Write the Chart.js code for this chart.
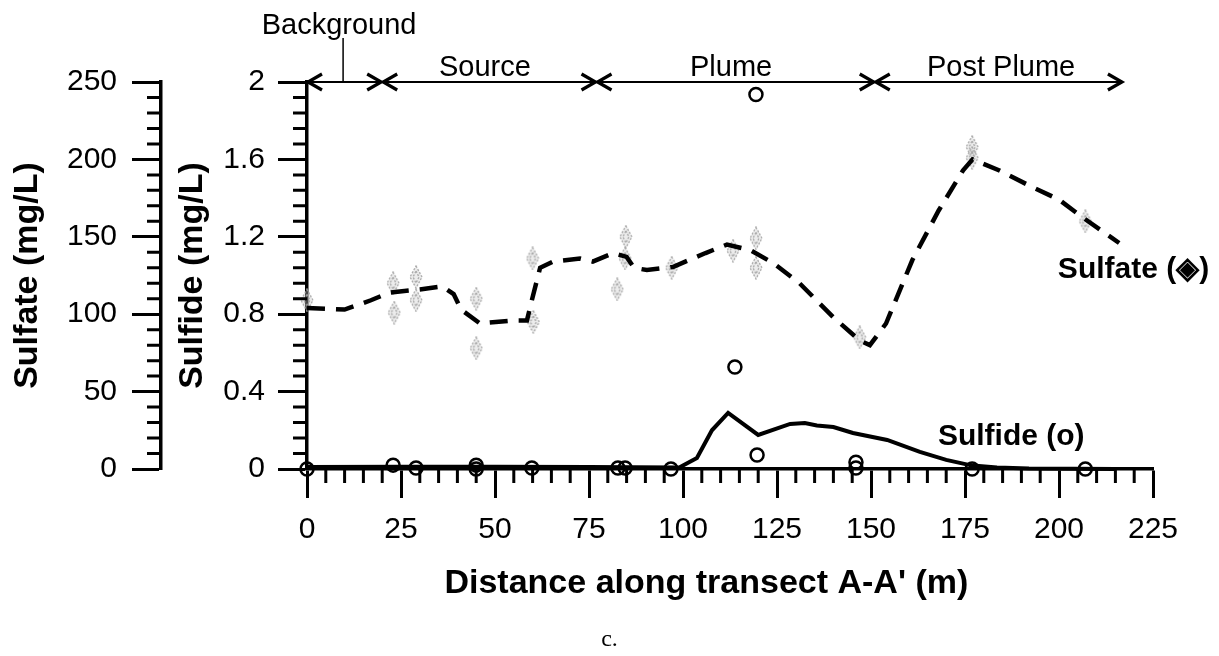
<!DOCTYPE html>
<html>
<head>
<meta charset="utf-8">
<script src="https://cdn.jsdelivr.net/npm/chart.js@4.4.1/dist/chart.umd.min.js"></script>
<style>
    html, body { margin: 0; padding: 0; background: #fff; }
    canvas { display: block; }
</style>
</head>
<body>
<canvas id="chart" width="1219" height="656"></canvas>
<script>
// Sulfide samples (open circles), mg/L
const sulfideX = [0, 22.9, 29, 45, 45, 59.8, 82.7, 84.6, 96.8, 113.8, 119.4, 119.7, 146, 146, 176.9, 207];
const sulfideY = [0, 0.02, 0.005, 0.02, 0, 0.005, 0.005, 0.005, 0, 0.527, 1.935, 0.072, 0.035, 0.005, 0, 0];

// Sulfide trend (solid line)
const sulfideLineX = [0, 25, 50, 75, 99, 103.7, 107.7, 112, 120, 128.5, 132.4, 135.6, 140, 145.2, 154.3, 163, 170, 176.3, 183.5, 192, 215];
const sulfideLineY = [0.01, 0.012, 0.012, 0.01, 0.008, 0.057, 0.2, 0.29, 0.176, 0.233, 0.238, 0.225, 0.217, 0.186, 0.15, 0.088, 0.047, 0.02, 0.008, 0.002, 0];

// Sulfate samples (grey diamonds), mg/L
const sulfateX = [0, 22.9, 23.2, 29, 29, 45, 45, 60, 60.2, 82.5, 84.8, 84.6, 97, 113.3, 119.4, 119.4, 147, 176.9, 176.9, 207];
const sulfateY = [109, 120, 101, 124, 109, 110, 78, 136, 95, 116, 150, 136, 130, 141, 149, 130, 85, 208, 201, 160];

// Sulfate trend (dashed line)
const sulfateLineX = [0, 10, 17, 22, 30, 36, 39, 41, 46, 55, 58.5, 60, 62, 65.4, 72.6, 76, 81.4, 85, 87, 90.4, 97.3, 106, 111.7, 117.8, 124, 131, 140, 147, 149.7, 154, 161, 168, 174.5, 177, 184, 193, 200, 206, 216];
const sulfateLineY = [104, 103, 109, 114, 116, 118, 113, 103, 94, 96, 96, 111, 130, 134, 136, 134, 139.5, 137, 130, 128.5, 130.5, 139.5, 145, 141.5, 133, 120, 98, 83, 80, 94, 135, 167, 193, 200, 193, 182, 174, 163, 146];

// Zones along the transect
const zoneNames = ["Background", "Source", "Plume", "Post Plume"];
const zoneEdges = [0, 20, 77, 151, 217];
const zoneLabelX = [9.6, 47.3, 112.8, 184.6];

// Axis ticks
const distanceTicks = [0, 25, 50, 75, 100, 125, 150, 175, 200, 225];
const sulfateTicks = [0, 50, 100, 150, 200, 250];
const sulfideTicks = [0, 0.4, 0.8, 1.2, 1.6, 2];

const FONT = "'Liberation Sans', Arial, Helvetica, sans-serif";

// Helper to zip two arrays into points
const toPoints = (xs, ys) => xs.map((x, i) => ({ x: x, y: ys[i] }));

// Grey stippled diamond used for sulfate samples
function makeDiamond() {
    const c = document.createElement("canvas");
    c.width = 14;
    c.height = 24;
    const g = c.getContext("2d");
    g.fillStyle = "rgba(200,200,200,0.35)";
    g.strokeStyle = "#a5a5a5";
    g.lineWidth = 1.3;
    g.setLineDash([2, 1.5]);
    g.beginPath();
    g.moveTo(7, 1); g.lineTo(13, 12); g.lineTo(7, 23); g.lineTo(1, 12);
    g.closePath();
    g.fill();
    g.stroke();
    g.beginPath();
    g.moveTo(7, 6); g.lineTo(10, 12); g.lineTo(7, 18); g.lineTo(4, 12);
    g.closePath();
    g.stroke();
    return c;
}

// Minor ticks, zone arrows and series labels
const overlay = {
    id: "overlay",
    afterDatasetsDraw(chart) {
        const { ctx, scales } = chart;
        const xs = scales.x;
        const ys = scales.ySulfide;
        const ya = scales.ySulfate;
        ctx.save();
        ctx.strokeStyle = "#000";
        ctx.fillStyle = "#000";

        // Minor ticks
        ctx.lineWidth = 3;
        ctx.beginPath();
        for (let k = 1; k < 45; k++) {
            if (k % 5 === 0) continue;
            const px = xs.getPixelForValue(k * 5);
            ctx.moveTo(px, xs.top);
            ctx.lineTo(px, xs.top + 14);
        }
        for (let k = 1; k < 25; k++) {
            if (k % 5 === 0) continue;
            const py = ya.getPixelForValue(k * 10);
            ctx.moveTo(ya.right - 14, py);
            ctx.lineTo(ya.right, py);
            const py2 = ys.getPixelForValue(k * 0.08);
            ctx.moveTo(ys.right - 14, py2);
            ctx.lineTo(ys.right, py2);
        }
        ctx.stroke();

        // Zone arrows along the top
        const yTop = ys.getPixelForValue(2);
        ctx.lineWidth = 2;
        ctx.beginPath();
        ctx.moveTo(xs.getPixelForValue(zoneEdges[0]), yTop);
        ctx.lineTo(xs.getPixelForValue(zoneEdges[zoneEdges.length - 1]), yTop);
        ctx.stroke();
        ctx.lineWidth = 3.2;
        for (let i = 0; i < zoneNames.length; i++) {
            const a = xs.getPixelForValue(zoneEdges[i]);
            const b = xs.getPixelForValue(zoneEdges[i + 1]);
            ctx.beginPath();
            ctx.moveTo(a + 15, yTop - 8); ctx.lineTo(a + 1, yTop); ctx.lineTo(a + 15, yTop + 8);
            ctx.moveTo(b - 15, yTop - 8); ctx.lineTo(b - 1, yTop); ctx.lineTo(b - 15, yTop + 8);
            ctx.stroke();
        }

        // Zone labels
        ctx.font = "29px " + FONT;
        ctx.textAlign = "center";
        ctx.textBaseline = "alphabetic";
        for (let i = 1; i < zoneNames.length; i++) {
            ctx.fillText(zoneNames[i], xs.getPixelForValue(zoneLabelX[i]), yTop - 6);
        }
        const bgX = xs.getPixelForValue(zoneLabelX[0]);
        ctx.fillText(zoneNames[0], bgX - 4, yTop - 48);
        ctx.lineWidth = 1.5;
        ctx.beginPath();
        ctx.moveTo(bgX, yTop - 44);
        ctx.lineTo(bgX, yTop);
        ctx.stroke();

        // Series labels
        ctx.font = "bold 30px " + FONT;
        ctx.textAlign = "left";
        ctx.textBaseline = "middle";
        ctx.fillText("Sulfate (\u25C8)", xs.getPixelForValue(199.7), ys.getPixelForValue(1.03));
        ctx.fillText("Sulfide (o)", xs.getPixelForValue(167.8), ys.getPixelForValue(0.165));
        ctx.restore();
    },
};

const axisCommon = {
    type: "linear",
    grid: { drawOnChartArea: false, drawTicks: true, tickLength: 29, tickWidth: 3, tickColor: "#000" },
    border: { color: "#000", width: 3.5 },
};

const chart = new Chart(document.getElementById("chart"), {
    type: "scatter",
    data: {
        datasets: [
            {
                type: "line",
                label: "Sulfide trend",
                data: toPoints(sulfideLineX, sulfideLineY),
                yAxisID: "ySulfide",
                borderColor: "#000",
                borderWidth: 4,
                pointRadius: 0,
                tension: 0,
                clip: false,
                order: 0,
            },
            {
                type: "line",
                label: "Sulfate trend",
                data: toPoints(sulfateLineX, sulfateLineY),
                yAxisID: "ySulfate",
                borderColor: "#000",
                borderWidth: 4.5,
                borderDash: [18, 11],
                pointRadius: 0,
                tension: 0,
                clip: false,
                order: 0,
            },
            {
                label: "Sulfide",
                data: toPoints(sulfideX, sulfideY),
                yAxisID: "ySulfide",
                pointStyle: "circle",
                pointRadius: 6.5,
                borderColor: "#000",
                borderWidth: 2.5,
                backgroundColor: "rgba(0,0,0,0)",
                clip: false,
                order: 1,
            },
            {
                label: "Sulfate",
                data: toPoints(sulfateX, sulfateY),
                yAxisID: "ySulfate",
                pointStyle: makeDiamond(),
                pointRadius: 8,
                clip: false,
                order: 2,
            },
        ],
    },
    options: {
        responsive: false,
        animation: false,
        devicePixelRatio: 1,
        layout: { padding: { left: 0, right: 66, top: 82, bottom: 0 } },
        plugins: {
            legend: { display: false },
            tooltip: { enabled: false },
            title: {
                display: true,
                position: "bottom",
                text: "           c.",
                color: "#000",
                font: { family: "'Liberation Serif', 'Times New Roman', serif", size: 24, weight: "normal" },
                padding: { top: 20.8, bottom: 2 },
            },
        },
        scales: {
            x: {
                ...axisCommon,
                position: "bottom",
                min: 0,
                max: 225,
                afterBuildTicks: s => { s.ticks = distanceTicks.map(v => ({ value: v })); },
                ticks: { color: "#000", font: { family: FONT, size: 30 }, padding: 14, maxRotation: 0, autoSkip: false, callback: v => String(v) },
                title: {
                    display: true,
                    text: "Distance along transect A-A' (m)     ",
                    color: "#000",
                    font: { family: FONT, size: 34, weight: "bold" },
                    padding: { top: 1.6, bottom: 0 },
                },
            },
            ySulfate: {
                ...axisCommon,
                position: "left",
                weight: 10,
                min: 0,
                max: 250,
                afterBuildTicks: s => { s.ticks = sulfateTicks.map(v => ({ value: v })); },
                afterFit: s => { s.width = 161; },
                ticks: { color: "#000", font: { family: FONT, size: 30 }, padding: 15, autoSkip: false, callback: v => String(v) },
                title: {
                    display: true,
                    text: "Sulfate (mg/L)",
                    color: "#000",
                    font: { family: FONT, size: 34, weight: "bold" },
                    padding: { top: 7.6, bottom: 0 },
                },
            },
            ySulfide: {
                ...axisCommon,
                position: "left",
                weight: 0,
                min: 0,
                max: 2,
                afterBuildTicks: s => { s.ticks = sulfideTicks.map(v => ({ value: v })); },
                afterFit: s => { s.width = 146; },
                ticks: { color: "#000", font: { family: FONT, size: 30 }, padding: 13, autoSkip: false, callback: v => String(v) },
                title: {
                    display: true,
                    text: "Sulfide (mg/L)",
                    color: "#000",
                    font: { family: FONT, size: 34, weight: "bold" },
                    padding: { top: 11.6, bottom: 0 },
                },
            },
        },
    },
    plugins: [overlay],
});
</script>
</body>
</html>
